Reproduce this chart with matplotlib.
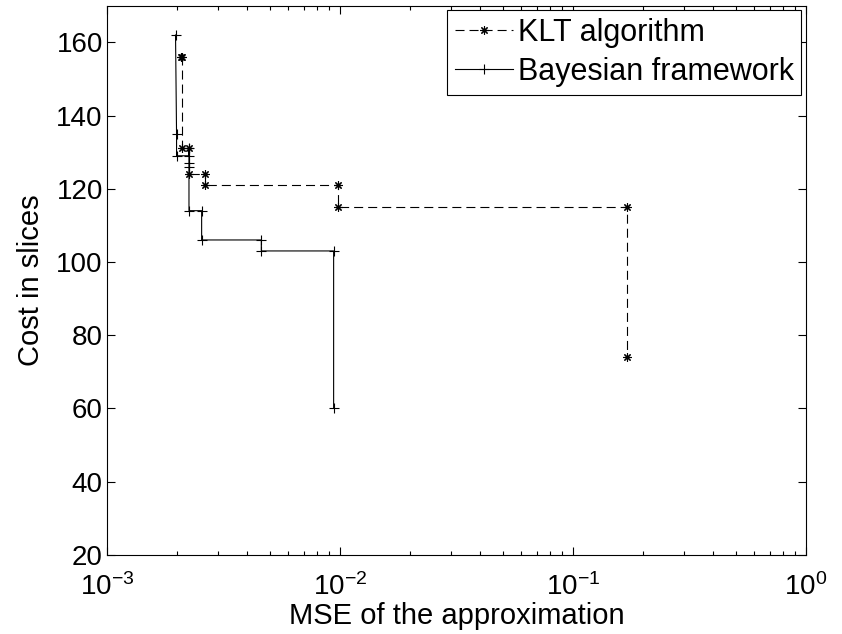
import matplotlib
matplotlib.use("Agg")
import matplotlib.pyplot as plt

plt.rcParams['font.family'] = ['Liberation Sans', 'DejaVu Sans']
plt.rcParams['mathtext.fontset'] = 'custom'
plt.rcParams['mathtext.rm'] = 'Liberation Sans'
plt.rcParams['mathtext.it'] = 'Liberation Sans'
plt.rcParams['lines.scale_dashes'] = False

# KLT algorithm (dashed, asterisk markers)
klt_mse = [2.08e-3, 2.10e-3, 2.10e-3, 2.25e-3, 2.25e-3, 2.64e-3, 2.64e-3,
           9.85e-3, 9.85e-3, 0.170, 0.170]
klt_cost = [156, 156, 131, 131, 124, 124, 121, 121, 115, 115, 74]

# Bayesian framework (solid, plus markers)
bayes_mse = [1.97e-3, 1.99e-3, 1.99e-3, 2.25e-3, 2.25e-3, 2.25e-3, 2.25e-3,
             2.25e-3, 2.55e-3, 2.55e-3, 4.60e-3, 4.60e-3, 9.40e-3, 9.40e-3]
bayes_cost = [162, 135, 129, 129, 131, 127, 126, 114, 114, 106, 106, 103, 103, 60]

yticks = [20, 40, 60, 80, 100, 120, 140, 160]

fig = plt.figure(figsize=(8.42, 6.34), dpi=100)
ax = fig.add_axes([0.127, 0.125, 0.830, 0.866])

ax.plot(klt_mse, klt_cost, color='black', linestyle='--', dashes=(6.5, 3.6),
        linewidth=0.8, marker=(8, 2, 0), markersize=6, markeredgewidth=0.8,
        label='KLT algorithm')
ax.plot(bayes_mse, bayes_cost, color='black', linestyle='-', linewidth=0.8,
        marker='+', markersize=7, markeredgewidth=0.8,
        label='Bayesian framework')

ax.set_xscale('log')
ax.set_xlim(1e-3, 1)
ax.set_ylim(20, 170)
ax.set_yticks(yticks)

ax.tick_params(which='both', direction='in', top=True, right=True,
               labelsize=20, width=0.8)
ax.tick_params(which='major', length=6)
ax.tick_params(which='minor', length=3)
ax.tick_params(axis='x', which='major', pad=13)
ax.tick_params(axis='y', which='major', pad=3)
for s in ax.spines.values():
    s.set_linewidth(0.8)

ax.set_xlabel('MSE of the approximation', fontsize=21, labelpad=1)
ax.set_ylabel('Cost in slices', fontsize=21, labelpad=8)

leg = ax.legend(loc='upper right', fontsize=22, fancybox=False, framealpha=1,
                edgecolor='black', handlelength=1.9, borderpad=0.25,
                labelspacing=0.3, handletextpad=0.15, borderaxespad=0.15)
leg.get_frame().set_linewidth(0.8)

fig.savefig('out.png', dpi=100)
